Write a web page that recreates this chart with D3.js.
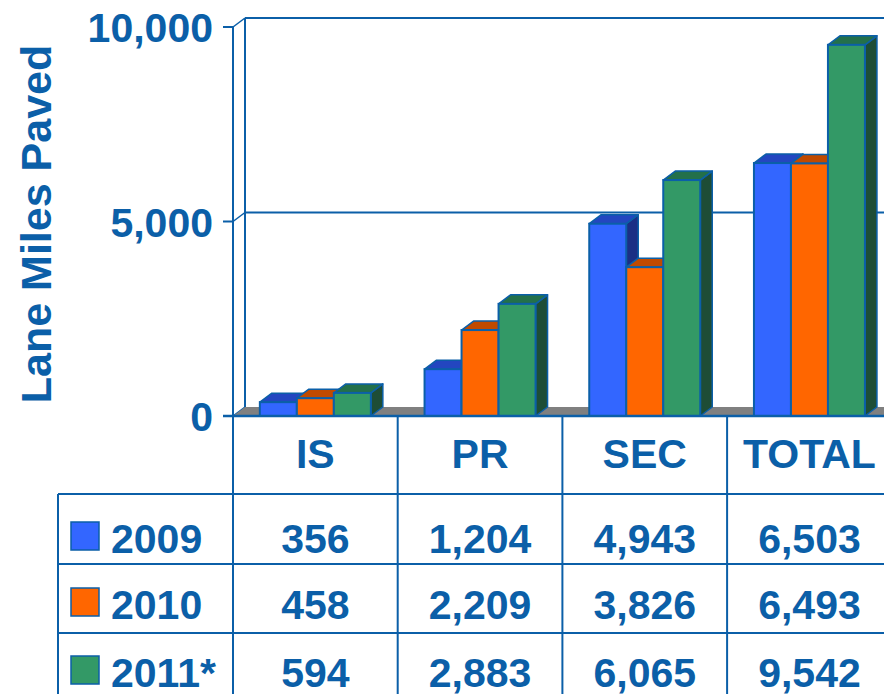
<!DOCTYPE html>
<html>
<head>
<meta charset="utf-8">
<script src="https://cdn.jsdelivr.net/npm/d3@7"></script>
<style>
html,body{margin:0;padding:0;background:#fff;}
svg{display:block;}
text{font-family:"Liberation Sans",Arial,sans-serif;font-weight:bold;fill:#0B5FA8;}
</style>
</head>
<body>
<svg id="chart" width="884" height="694"></svg>
<script>
// ---- data ----
const categories = ["IS", "PR", "SEC", "TOTAL"];
const seriesNames = ["2009", "2010", "2011*"];
const values2009 = [356, 1204, 4943, 6503];
const values2010 = [458, 2209, 3826, 6493];
const values2011 = [594, 2883, 6065, 9542];
const yTicks = [0, 5000, 10000];

const seriesValues = [values2009, values2010, values2011];
const colors = {
  front: ["#3366FF", "#FF6600", "#339966"],
  top:   ["#2346C0", "#C04A00", "#23704A"],
  side:  ["#1B2F85", "#8A3600", "#1E4D36"]
};
const lineColor = "#0B5FA8";

const svg = d3.select("#chart");
svg.append("rect").attr("width", 884).attr("height", 694).attr("fill", "#fff");

// geometry
const DX = 12, DY = -9;
const plotLeft = 233, plotRight = 897;
const y = d3.scaleLinear().domain([0, 10000]).range([416, 27]);
const x = d3.scaleBand().domain(categories).range([plotLeft, plotLeft + 4 * 164.7]);
const groupW = 111;
const xs = d3.scaleBand().domain(seriesNames).range([0, groupW]);

const fmt = d3.format(",");

// back wall vertical + gridlines
const g = svg.append("g");
g.append("line").attr("x1", plotLeft + DX).attr("x2", plotLeft + DX)
  .attr("y1", y(10000) + DY).attr("y2", y(0) + DY)
  .attr("stroke", lineColor).attr("stroke-width", 2);
yTicks.forEach(t => {
  if (t > 0) {
    g.append("line").attr("x1", plotLeft + DX).attr("x2", 884)
      .attr("y1", y(t) + DY).attr("y2", y(t) + DY)
      .attr("stroke", lineColor).attr("stroke-width", 2);
  }
  g.append("line").attr("x1", plotLeft).attr("x2", plotLeft + DX)
    .attr("y1", y(t)).attr("y2", y(t) + DY)
    .attr("stroke", lineColor).attr("stroke-width", 1.5);
  g.append("line").attr("x1", plotLeft - 10).attr("x2", plotLeft)
    .attr("y1", y(t)).attr("y2", y(t))
    .attr("stroke", lineColor).attr("stroke-width", 2);
  g.append("text").attr("x", 213).attr("y", y(t) + 15)
    .attr("text-anchor", "end").attr("font-size", 41).text(fmt(t));
});

// floor
g.append("path")
  .attr("d", `M${plotLeft},${y(0)} L${plotLeft + DX},${y(0) + DY} L${900},${y(0) + DY} L${900},${y(0)} Z`)
  .attr("fill", "#808080");

// bars
categories.forEach((c, ci) => {
  const gx = x(c) + x.bandwidth() / 2 - groupW / 2;
  seriesNames.forEach((s, si) => {
    const v = seriesValues[si][ci];
    const x0 = gx + xs(s), x1 = x0 + xs.bandwidth();
    const yt = y(v), yb = y(0);
    // side
    g.append("path")
      .attr("d", `M${x1},${yt} L${x1 + DX},${yt + DY} L${x1 + DX},${yb + DY} L${x1},${yb} Z`)
      .attr("fill", colors.side[si]).attr("stroke", lineColor).attr("stroke-width", 1.5).attr("stroke-linejoin", "round");
    // top
    g.append("path")
      .attr("d", `M${x0},${yt} L${x0 + DX},${yt + DY} L${x1 + DX},${yt + DY} L${x1},${yt} Z`)
      .attr("fill", colors.top[si]).attr("stroke", lineColor).attr("stroke-width", 1.5).attr("stroke-linejoin", "round");
    // front
    g.append("rect").attr("x", x0).attr("y", yt).attr("width", x1 - x0).attr("height", yb - yt)
      .attr("fill", colors.front[si]).attr("stroke", lineColor).attr("stroke-width", 2);
  });
});

// front axis line (extends into table)
g.append("line").attr("x1", plotLeft).attr("x2", plotLeft)
  .attr("y1", y(10000)).attr("y2", 694)
  .attr("stroke", lineColor).attr("stroke-width", 2);
// floor front line
g.append("line").attr("x1", plotLeft - 10).attr("x2", 884)
  .attr("y1", y(0)).attr("y2", y(0))
  .attr("stroke", lineColor).attr("stroke-width", 2.5);

// y-axis title
svg.append("text").attr("transform", "translate(51,224) rotate(-90)")
  .attr("text-anchor", "middle").attr("font-size", 43).text("Lane Miles Paved");

// data table
const rowLines = [494, 564, 633];
const rowBaselines = [553, 619, 687];
const t = svg.append("g");
rowLines.forEach(ry => {
  t.append("line").attr("x1", 58).attr("x2", 884).attr("y1", ry).attr("y2", ry)
    .attr("stroke", lineColor).attr("stroke-width", 2);
});
t.append("line").attr("x1", 58).attr("x2", 58).attr("y1", 494).attr("y2", 694)
  .attr("stroke", lineColor).attr("stroke-width", 2);
categories.forEach((c, ci) => {
  if (ci > 0) {
    t.append("line").attr("x1", x(c)).attr("x2", x(c)).attr("y1", y(0)).attr("y2", 694)
      .attr("stroke", lineColor).attr("stroke-width", 2);
  }
  const cx = x(c) + x.bandwidth() / 2;
  t.append("text").attr("x", cx).attr("y", 468).attr("text-anchor", "middle")
    .attr("font-size", 41).text(c);
  seriesNames.forEach((s, si) => {
    t.append("text").attr("x", cx).attr("y", rowBaselines[si]).attr("text-anchor", "middle")
      .attr("font-size", 41).text(fmt(seriesValues[si][ci]));
  });
});
seriesNames.forEach((s, si) => {
  t.append("rect").attr("x", 71).attr("y", rowBaselines[si] - 31).attr("width", 28).attr("height", 28)
    .attr("fill", colors.front[si]).attr("stroke", lineColor).attr("stroke-width", 1.5);
  t.append("text").attr("x", 111).attr("y", rowBaselines[si]).attr("font-size", 41).text(s);
});
</script>
</body>
</html>
